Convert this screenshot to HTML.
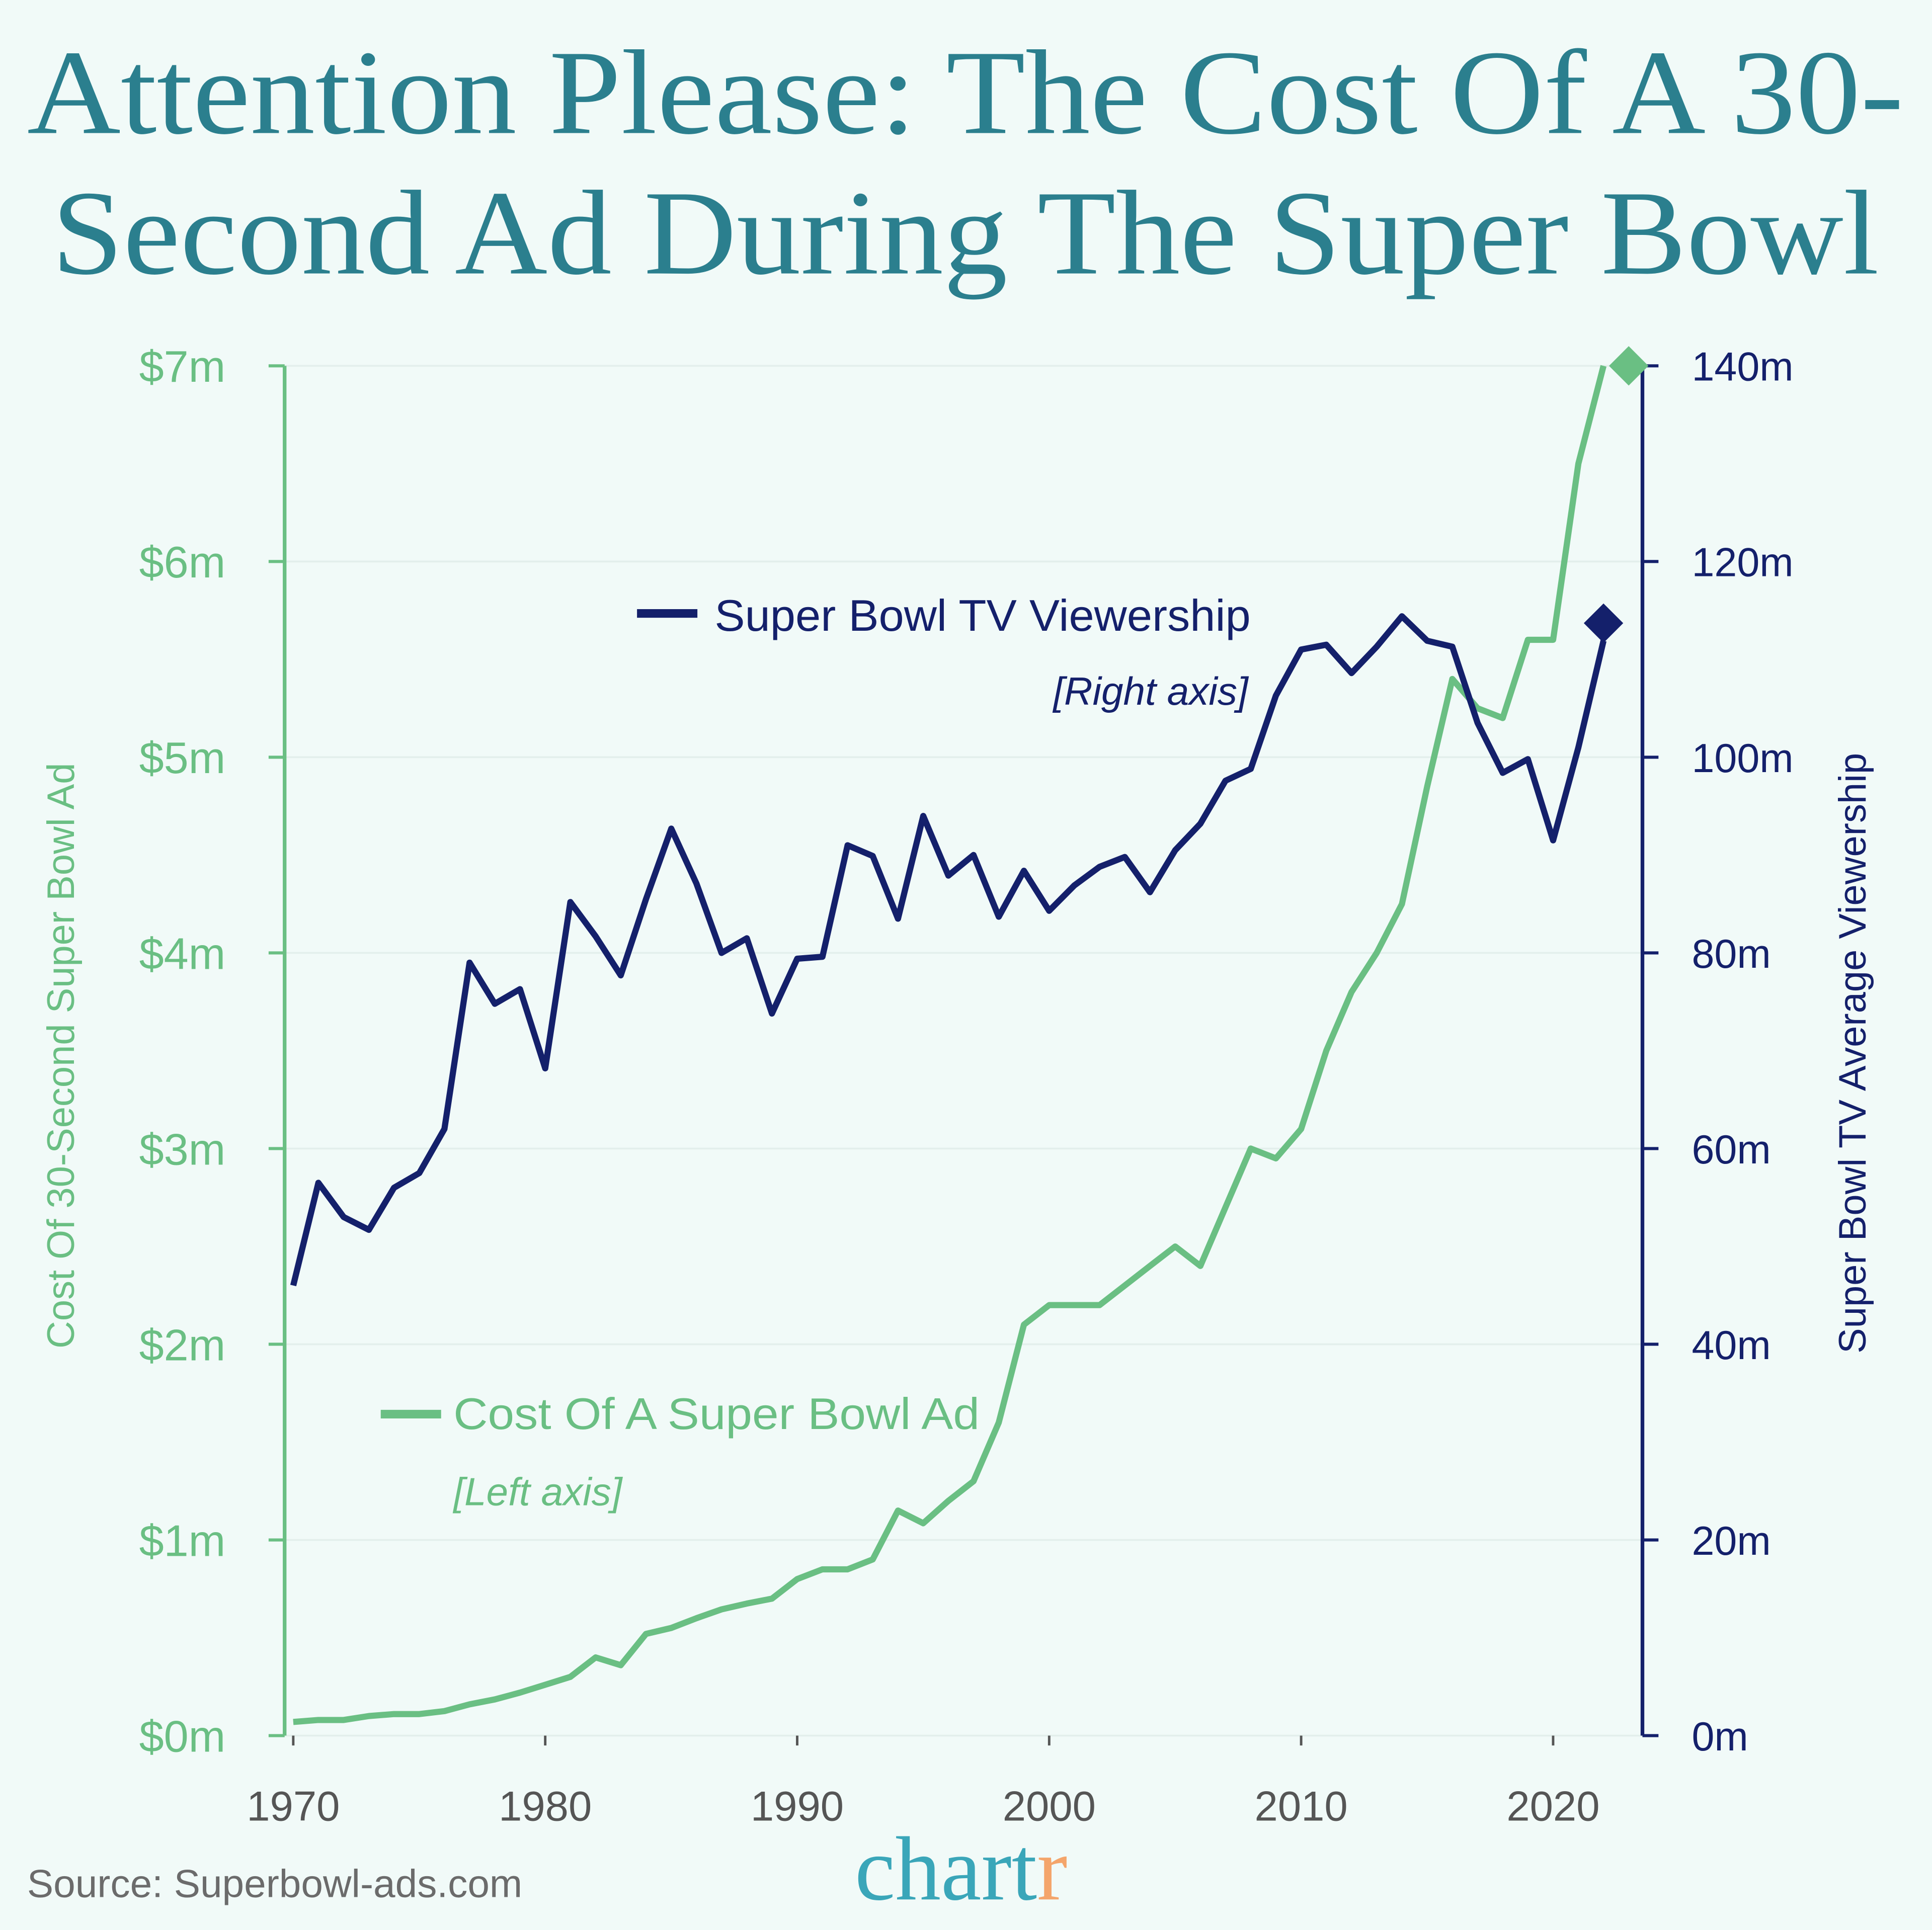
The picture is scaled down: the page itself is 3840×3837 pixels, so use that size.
<!DOCTYPE html>
<html><head><meta charset="utf-8"><style>
html,body{margin:0;padding:0;background:#f1faf8;}
svg{display:block;}
</style></head><body>
<svg id="chart" width="3840" height="3837" viewBox="0 0 1568 1566.8" preserveAspectRatio="none" xmlns="http://www.w3.org/2000/svg">
<rect x="0" y="0" width="1568" height="1567" fill="#f1faf8"/>
<g font-family="Liberation Serif, serif" fill="#2b7f8e">
<text x="22" y="108" font-size="98" textLength="1523" lengthAdjust="spacingAndGlyphs">Attention Please: The Cost Of A 30-</text>
<text x="42" y="222" font-size="98" textLength="1483" lengthAdjust="spacingAndGlyphs">Second Ad During The Super Bowl</text>
</g>
<g id="grid"></g>
<g id="axes"></g>
<g id="series"></g>
<g font-family="Liberation Sans, sans-serif">
<line x1="517" y1="498" x2="566" y2="498" stroke="#14206b" stroke-width="7"/>
<text x="580" y="512" font-size="36" fill="#14206b" textLength="435" lengthAdjust="spacingAndGlyphs">Super Bowl TV Viewership</text>
<text x="1013" y="572" font-size="32" font-style="italic" fill="#14206b" text-anchor="end">[Right axis]</text>
<line x1="309" y1="1148" x2="358" y2="1148" stroke="#6abf83" stroke-width="7"/>
<text x="368" y="1160" font-size="36" fill="#6abf83" textLength="427" lengthAdjust="spacingAndGlyphs">Cost Of A Super Bowl Ad</text>
<text x="368" y="1222" font-size="32" font-style="italic" fill="#6abf83">[Left axis]</text>
</g>
<text x="22" y="1540" font-family="Liberation Sans, sans-serif" font-size="32" fill="#6b6b6b">Source: Superbowl-ads.com</text>
<text x="780" y="1542" font-family="Liberation Serif, serif" font-size="74" fill="#3aa6b9" text-anchor="middle">chart<tspan fill="#f4a56b">r</tspan></text>
</svg>
<script>
const years = [];
for (let y = 1970; y <= 2022; y++) years.push(y);
const adCost = [0.07,0.08,0.08,0.1,0.11,0.11,0.125,0.16,0.185,0.22,0.26,0.3,0.4,0.36,0.52,0.55,0.6,0.645,0.675,0.7,0.8,0.85,0.85,0.9,1.15,1.085,1.2,1.3,1.6,2.1,2.2,2.2,2.2,2.3,2.4,2.5,2.4,2.7,3.0,2.95,3.1,3.5,3.8,4.0,4.25,4.85,5.4,5.25,5.2,5.6,5.6,6.5,7.0];
const viewers = [46,56.5,53,51.7,56,57.5,62,79,74.8,76.3,68.2,85.2,81.7,77.7,85.5,92.7,87.1,80,81.5,73.8,79.4,79.6,91,89.9,83.5,94,87.9,90,83.7,88.4,84.3,86.9,88.8,89.8,86.2,90.5,93.2,97.6,98.8,106.3,111,111.5,108.6,111.3,114.4,111.9,111.3,103.5,98.4,99.8,91.5,101,111.9];
const costMarker = [2023, 7.0];
const viewMarker = [2022, 113.7];
const leftTicks = [0,1,2,3,4,5,6,7];
const leftTickLabels = ["$0m","$1m","$2m","$3m","$4m","$5m","$6m","$7m"];
const rightTicks = [0,20,40,60,80,100,120,140];
const rightTickLabels = ["0m","20m","40m","60m","80m","100m","120m","140m"];
const xTicks = [1970,1980,1990,2000,2010,2020];

const NS = "http://www.w3.org/2000/svg";
const X0 = 231, X1 = 1333, Y0 = 1409, Y1 = 297;
const xs = yr => 238 + (yr - 1970) * 20.45;
const yl = v => Y0 - (v / 7) * (Y0 - Y1);
const yr = v => Y0 - (v / 140) * (Y0 - Y1);
function mk(tag, attrs, parent) {
  const e = document.createElementNS(NS, tag);
  for (const k in attrs) e.setAttribute(k, attrs[k]);
  parent.appendChild(e);
  return e;
}
const grid = document.getElementById('grid');
const axes = document.getElementById('axes');
const series = document.getElementById('series');
const font = "Liberation Sans, sans-serif";

leftTicks.forEach((v, i) => {
  const g = mk('line', {x1: X0, x2: X1, y1: yl(v), y2: yl(v), stroke: '#e3efec', 'stroke-width': 1.5}, grid);
  
  
  const t = mk('line', {x1: X0 - 13, x2: X0, y1: yl(v), y2: yl(v), stroke: '#6abf83', 'stroke-width': 2.5}, axes);
  
  
  const l = mk('text', {x: 183, y: yl(v) + 13, 'font-family': font, 'font-size': 36, fill: '#6abf83', 'text-anchor': 'end'}, axes);
  l.textContent = leftTickLabels[i];
  
  
});
rightTicks.forEach((v, i) => {
  const t = mk('line', {x1: X1, x2: X1 + 13, y1: yr(v), y2: yr(v), stroke: '#14206b', 'stroke-width': 2.5}, axes);
  
  
  const l = mk('text', {x: 1373, y: yr(v) + 12, 'font-family': font, 'font-size': 33, fill: '#14206b'}, axes);
  l.textContent = rightTickLabels[i];
  
  
});
xTicks.forEach(v => {
  const t = mk('line', {x1: xs(v), x2: xs(v), y1: Y0, y2: Y0 + 8, stroke: '#555', 'stroke-width': 2}, axes);
  
  
  const l = mk('text', {x: xs(v), y: 1478, 'font-family': font, 'font-size': 34, fill: '#555', 'text-anchor': 'middle'}, axes);
  l.textContent = String(v);
  
  
});
const la = mk('line', {x1: X0, x2: X0, y1: Y1, y2: Y0, stroke: '#6abf83', 'stroke-width': 3}, axes);


const ra = mk('line', {x1: X1, x2: X1, y1: Y1, y2: Y0, stroke: '#14206b', 'stroke-width': 3}, axes);


const lt = mk('text', {x: 0, y: 0, 'font-family': font, 'font-size': 31, fill: '#6abf83', 'text-anchor': 'middle', transform: 'translate(60,857) rotate(-90)'}, axes);
lt.textContent = 'Cost Of 30-Second Super Bowl Ad';


const rt = mk('text', {x: 0, y: 0, 'font-family': font, 'font-size': 31, fill: '#14206b', 'text-anchor': 'middle', transform: 'translate(1514,855) rotate(-90)'}, axes);
rt.textContent = 'Super Bowl TV Average Viewership';



const costPts = years.map((y, i) => xs(y).toFixed(1) + ',' + yl(adCost[i]).toFixed(1)).join(' ');
const cl = mk('polyline', {points: costPts, fill: 'none', stroke: '#6abf83', 'stroke-width': 5, 'stroke-linejoin': 'round'}, series);


const viewPts = years.map((y, i) => xs(y).toFixed(1) + ',' + yr(viewers[i]).toFixed(1)).join(' ');
const vl = mk('polyline', {points: viewPts, fill: 'none', stroke: '#14206b', 'stroke-width': 5, 'stroke-linejoin': 'round'}, series);


function diamond(cx, cy, r, color, name) {
  const d = mk('polygon', {points: `${cx},${cy - r} ${cx + r},${cy} ${cx},${cy + r} ${cx - r},${cy}`, fill: color}, series);
  
  
}
diamond(xs(costMarker[0]), yl(costMarker[1]), 16, '#6abf83', 'ad-cost-2023-marker');
diamond(xs(viewMarker[0]), yr(viewMarker[1]), 16, '#14206b', 'viewership-2023-marker');
</script>
</body></html>
